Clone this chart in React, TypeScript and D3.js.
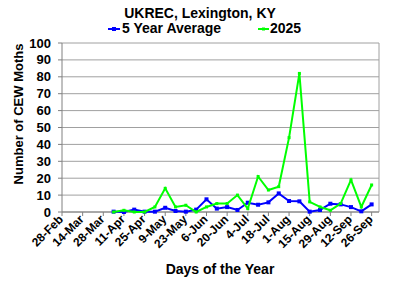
import React from "react";
import * as d3 from "d3";

const dates = [
  "4-Apr", "11-Apr", "18-Apr", "25-Apr", "2-May", "9-May", "16-May", "23-May", "30-May",
  "6-Jun", "13-Jun", "20-Jun", "27-Jun", "4-Jul", "11-Jul", "18-Jul", "25-Jul",
  "1-Aug", "8-Aug", "15-Aug", "22-Aug", "29-Aug", "5-Sep", "12-Sep", "19-Sep", "26-Sep",
];
const fiveYearAvg = [
  0.2, 0, 1.4, 0.2, 0.2, 2.5, 0.6, 0.2, 1.4,
  7.5, 2.0, 2.9, 1.2, 5.5, 4.3, 5.7, 11.0,
  6.5, 6.3, 0.2, 1.2, 4.9, 4.5, 2.9, 0.4, 4.5,
];
const y2025 = [
  0, 1, 0, 0, 3, 14, 3, 4, 0,
  3, 5, 5, 10, 2, 21, 13, 15,
  44, 82, 6, 3, 1, 5, 19, 3, 16,
];
const tickLabels = [
  "28-Feb", "14-Mar", "28-Mar", "11-Apr", "25-Apr", "9-May", "23-May", "6-Jun",
  "20-Jun", "4-Jul", "18-Jul", "1-Aug", "15-Aug", "29-Aug", "12-Sep", "26-Sep",
];
const yTicks = [0, 10, 20, 30, 40, 50, 60, 70, 80, 90, 100];
const seriesNames = ["5 Year Average", "2025"];
const seriesColors = ["#0000ff", "#00ff00"];

const parse = d3.timeParse("%d-%b-%Y");
const toDate = (s: string) => parse(s + "-2025") as Date;

const L = 62, R = 379, T = 43, B = 212;
const FONT = "'Liberation Sans', Arial, sans-serif";

export default function App() {
  const x = d3.scaleTime().domain([toDate("28-Feb"), toDate("1-Oct")]).range([L, R]);
  const y = d3.scaleLinear().domain([0, 100]).range([B, T]);
  const line = d3
    .line<number>()
    .x((_, i) => x(toDate(dates[i])))
    .y((d) => y(d));
  const series = [fiveYearAvg, y2025];

  return (
    <svg
      width={400}
      height={291}
      style={{ position: "absolute", left: 0, top: 0, background: "#fff" }}
      fontFamily={FONT}
    >
      <rect x={0} y={0} width={400} height={291} fill="#fff" />
      <text x={200} y={18} textAnchor="middle" fontSize={14} fontWeight="bold" fill="#000">
        UKREC, Lexington, KY
      </text>
      {/* legend */}
      <g>
        <line x1={108} x2={120} y1={29} y2={29} stroke={seriesColors[0]} strokeWidth={2} />
        <rect x={112} y={27} width={4} height={4} fill={seriesColors[0]} />
        <text x={122} y={33} fontSize={14} fontWeight="bold">{seriesNames[0]}</text>
        <line x1={258} x2={269} y1={29} y2={29} stroke={seriesColors[1]} strokeWidth={2} />
        <rect x={262} y={27.5} width={3} height={3} fill={seriesColors[1]} />
        <text x={270} y={33} fontSize={14} fontWeight="bold">{seriesNames[1]}</text>
      </g>
      {/* grid */}
      {yTicks.map((t) => (
        <line key={t} x1={L} x2={R} y1={y(t)} y2={y(t)} stroke="#a0a0a0" strokeWidth={1} />
      ))}
      <line x1={R} x2={R} y1={T} y2={B} stroke="#a0a0a0" strokeWidth={1} />
      <line x1={L} x2={L} y1={T} y2={B} stroke="#808080" strokeWidth={1} />
      <line x1={L} x2={R} y1={B} y2={B} stroke="#808080" strokeWidth={1} />
      {/* y ticks */}
      {yTicks.map((t) => (
        <g key={"yt" + t}>
          <line x1={L - 4} x2={L} y1={y(t)} y2={y(t)} stroke="#808080" />
          <text x={51} y={y(t)} dy="0.35em" textAnchor="end" fontSize={13} fontWeight="bold">
            {t}
          </text>
        </g>
      ))}
      {/* x ticks */}
      {tickLabels.map((lab) => {
        const xx = x(toDate(lab));
        return (
          <g key={lab}>
            <line x1={xx} x2={xx} y1={B} y2={B + 4} stroke="#808080" />
            <text
              transform={`translate(${xx + 2},${B + 8}) rotate(-45)`}
              textAnchor="end"
              fontSize={12}
              fontWeight="bold"
            >
              {lab}
            </text>
          </g>
        );
      })}
      {/* series */}
      {series.map((s, si) => (
        <g key={si}>
          <path d={line(s) || ""} fill="none" stroke={seriesColors[si]} strokeWidth={2} />
          {s.map((v, i) => {
            const sz = si === 0 ? 4 : 3;
            return (
              <rect
                key={i}
                x={x(toDate(dates[i])) - sz / 2}
                y={y(v) - sz / 2}
                width={sz}
                height={sz}
                fill={seriesColors[si]}
              />
            );
          })}
        </g>
      ))}
      <text
        transform={`translate(23,114) rotate(-90)`}
        textAnchor="middle"
        fontSize={13}
        fontWeight="bold"
      >
        Number of CEW Moths
      </text>
      <text x={220} y={274} textAnchor="middle" fontSize={14} fontWeight="bold">
        Days of the Year
      </text>
    </svg>
  );
}
